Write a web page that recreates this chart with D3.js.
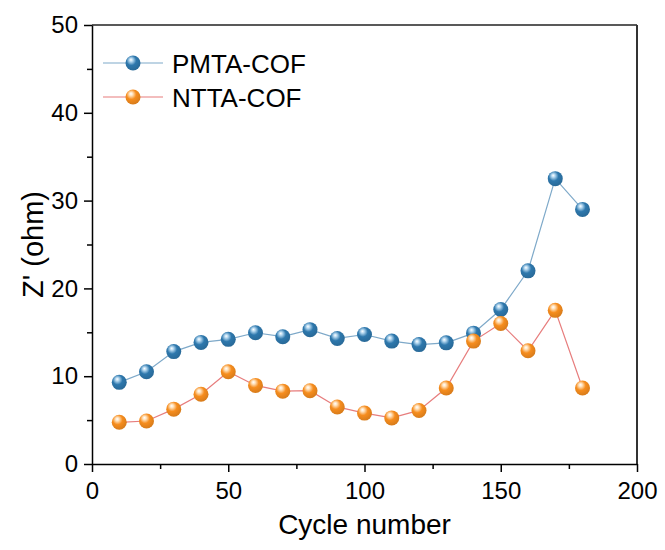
<!DOCTYPE html>
<html>
<head>
<meta charset="utf-8">
<script src="https://cdn.jsdelivr.net/npm/d3@7"></script>
<style>
  body { margin: 0; background: #fff; }
  svg text { font-family: "Liberation Sans", Arial, sans-serif; fill: #000; }
</style>
</head>
<body>
<div id="chart"></div>
<script>
const cycles = [10, 20, 30, 40, 50, 60, 70, 80, 90, 100, 110, 120, 130, 140, 150, 160, 170, 180];
const pmta = [9.3, 10.5, 12.8, 13.85, 14.2, 14.95, 14.5, 15.3, 14.3, 14.75, 14.0, 13.6, 13.8, 14.9, 17.6, 22.0, 32.5, 29.0];
const ntta = [4.75, 4.9, 6.25, 7.95, 10.5, 8.95, 8.3, 8.35, 6.5, 5.8, 5.25, 6.1, 8.65, 14.0, 16.0, 12.9, 17.5, 8.65];
const xTicks = [0, 50, 100, 150, 200];
const yTicks = [0, 10, 20, 30, 40, 50];

const series = [
  { name: "PMTA-COF", values: pmta, line: "#7ea9c9", base: "#2e78ad", light: "#b5d8f0", id: "gBlue" },
  { name: "NTTA-COF", values: ntta, line: "#e77d7d", base: "#f68d1e", light: "#ffe2bd", id: "gOrange" },
];

const width = 665, height = 550;
const margin = { top: 25, right: 28, bottom: 86, left: 92 };
const innerW = width - margin.left - margin.right;
const innerH = height - margin.top - margin.bottom;

const svg = d3.select("#chart").append("svg")
  .attr("width", width).attr("height", height);

// sphere look for the markers
const defs = svg.append("defs");
series.forEach((s) => {
  const grad = defs.append("radialGradient").attr("id", s.id)
    .attr("cx", "42%").attr("cy", "38%").attr("r", "65%")
    .attr("fx", "36%").attr("fy", "28%");
  grad.append("stop").attr("offset", "0%").attr("stop-color", "#ffffff");
  grad.append("stop").attr("offset", "18%").attr("stop-color", s.light);
  grad.append("stop").attr("offset", "50%").attr("stop-color", s.base);
  grad.append("stop").attr("offset", "100%").attr("stop-color", d3.color(s.base).darker(0.4));
});

const g = svg.append("g").attr("transform", `translate(${margin.left},${margin.top})`);

const x = d3.scaleLinear().domain([0, 200]).range([0, innerW]);
const y = d3.scaleLinear().domain([0, 50]).range([innerH, 0]);

// frame top / right
g.append("line").attr("x1", 0).attr("x2", innerW).attr("y1", 0).attr("y2", 0)
  .attr("stroke", "#222").attr("stroke-width", 1.5);
g.append("line").attr("x1", innerW).attr("x2", innerW).attr("y1", 0).attr("y2", innerH)
  .attr("stroke", "#333").attr("stroke-width", 2);

// minor ticks
const xAxisMinor = d3.axisBottom(x).tickValues(d3.range(25, 200, 50)).tickSize(5).tickFormat("");
const yAxisMinor = d3.axisLeft(y).tickValues(d3.range(5, 50, 10)).tickSize(5).tickFormat("");
g.append("g").attr("transform", `translate(0,${innerH})`).call(xAxisMinor)
  .call((a) => a.select(".domain").remove());
g.append("g").call(yAxisMinor).call((a) => a.select(".domain").remove());

const xAxis = g.append("g").attr("transform", `translate(0,${innerH})`)
  .call(d3.axisBottom(x).tickValues(xTicks).tickSize(8).tickSizeOuter(0).tickPadding(10));
const yAxis = g.append("g")
  .call(d3.axisLeft(y).tickValues(yTicks).tickSize(8).tickSizeOuter(0).tickPadding(6));
[xAxis, yAxis].forEach((a) => {
  a.selectAll("text").style("font-size", "24px").attr("fill", "#000");
  a.selectAll("line, path").attr("stroke", "#000").attr("stroke-width", 1.5);
});
g.selectAll(".tick line").attr("stroke", "#000").attr("stroke-width", 1.5);

// lines and markers
const line = d3.line().x((d, i) => x(cycles[i])).y((d) => y(d));
series.forEach((s) => {
  g.append("path").datum(s.values)
    .attr("fill", "none").attr("stroke", s.line).attr("stroke-width", 1.2)
    .attr("d", line);
});
series.forEach((s) => {
  g.selectAll(null).data(s.values).enter().append("circle")
    .attr("cx", (d, i) => x(cycles[i]))
    .attr("cy", (d) => y(d))
    .attr("r", 7.5)
    .attr("fill", `url(#${s.id})`);
});

// legend
const legend = g.selectAll(".legend").data(series).enter().append("g")
  .attr("transform", (d, i) => `translate(11,${38 + i * 34})`);
legend.append("line").attr("x1", 0).attr("x2", 60).attr("y1", 0).attr("y2", 0)
  .attr("stroke", (d) => d.line).attr("stroke-width", 1.2);
legend.append("circle").attr("cx", 30).attr("cy", 0).attr("r", 7.5)
  .attr("fill", (d) => `url(#${d.id})`);
legend.append("text").attr("x", 69).attr("y", 10)
  .style("font-size", "26px").text((d) => d.name);

// axis titles
svg.append("text").attr("x", margin.left + innerW / 2).attr("y", 534)
  .attr("text-anchor", "middle").style("font-size", "28px").text("Cycle number");
svg.append("text").attr("transform", `translate(43,${margin.top + innerH / 2}) rotate(-90)`)
  .attr("text-anchor", "middle").style("font-size", "29px").text("Z' (ohm)");
</script>
</body>
</html>
